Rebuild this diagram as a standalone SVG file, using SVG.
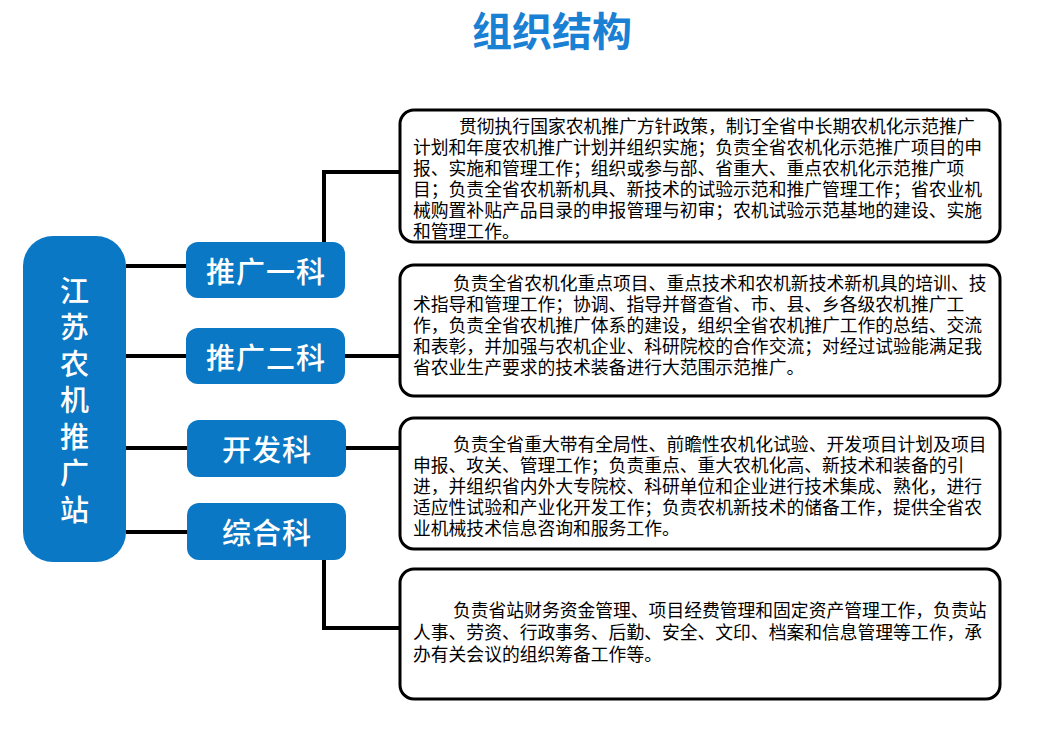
<svg xmlns="http://www.w3.org/2000/svg" width="1055" height="740" viewBox="0 0 1055 740">
<style>
.title{font-family:"Noto Sans CJK SC","Noto Sans",sans-serif;font-size:40px;font-weight:bold;fill:#1A80D3;}
.node{fill:#0A78C4;}
.nt{font-family:"Liberation Sans","Noto Sans CJK SC",sans-serif;font-size:29px;font-weight:500;fill:#FFFFFF;text-anchor:middle;letter-spacing:1px;}
.box{fill:#FFFFFF;stroke:#000000;stroke-width:3;}
.t{font-family:"Liberation Sans","Noto Sans CJK SC",sans-serif;font-size:17.8px;fill:#000000;}
.conn{fill:none;stroke:#000000;stroke-width:4;}
</style>
<rect width="1055" height="740" fill="#FFFFFF"/>
<text class="title" x="552" y="46" text-anchor="middle">组织结构</text>

<g id="connectors">
<path class="conn" d="M126 266 H186"/>
<path class="conn" d="M126 356 H186"/>
<path class="conn" d="M126 448 H187"/>
<path class="conn" d="M126 532 H187"/>
<path class="conn" d="M324 242 V172 H400"/>
<path class="conn" d="M345 356 H400"/>
<path class="conn" d="M346 448 H400"/>
<path class="conn" d="M324 560 V628 H400"/>
</g>

<g id="root">
<rect class="node" x="23" y="236" width="103" height="326" rx="30"/>
<text class="nt" x="75"><tspan x="75" y="302">江</tspan><tspan x="75" y="338">苏</tspan><tspan x="75" y="375">农</tspan><tspan x="75" y="411">机</tspan><tspan x="75" y="448">推</tspan><tspan x="75" y="484">广</tspan><tspan x="75" y="521">站</tspan></text>
</g>

<g id="tuiguang1">
<rect class="node" x="186" y="242" width="159" height="56" rx="12"/>
<text class="nt" x="266" y="283">推广一科</text>
</g>
<g id="tuiguang2">
<rect class="node" x="186" y="328" width="159" height="56" rx="12"/>
<text class="nt" x="266" y="369">推广二科</text>
</g>
<g id="kaifa">
<rect class="node" x="187" y="420" width="159" height="57" rx="12"/>
<text class="nt" x="267" y="461">开发科</text>
</g>
<g id="zonghe">
<rect class="node" x="187" y="503" width="159" height="57" rx="12"/>
<text class="nt" x="267" y="544">综合科</text>
</g>

<g id="desc1">
<rect class="box" x="400" y="110" width="600" height="132" rx="14"/>
<text class="t"><tspan x="459" y="132.5">贯彻执行国家农机推广方针政策，制订全省中长期农机化示范推广</tspan><tspan x="413" y="153.5">计划和年度农机推广计划并组织实施；负责全省农机化示范推广项目的申</tspan><tspan x="413" y="174.5">报、实施和管理工作；组织或参与部、省重大、重点农机化示范推广项</tspan><tspan x="413" y="195.5">目；负责全省农机新机具、新技术的试验示范和推广管理工作；省农业机</tspan><tspan x="413" y="216.5">械购置补贴产品目录的申报管理与初审；农机试验示范基地的建设、实施</tspan><tspan x="413" y="237.5">和管理工作。</tspan></text>
</g>

<g id="desc2">
<rect class="box" x="400" y="265" width="600" height="131" rx="14"/>
<text class="t"><tspan x="453" y="289.5">负责全省农机化重点项目、重点技术和农机新技术新机具的培训、技</tspan><tspan x="413" y="310.5">术指导和管理工作；协调、指导并督查省、市、县、乡各级农机推广工</tspan><tspan x="413" y="331.5">作，负责全省农机推广体系的建设，组织全省农机推广工作的总结、交流</tspan><tspan x="413" y="352.5">和表彰，并加强与农机企业、科研院校的合作交流；对经过试验能满足我</tspan><tspan x="413" y="373.5">省农业生产要求的技术装备进行大范围示范推广。</tspan></text>
</g>

<g id="desc3">
<rect class="box" x="400" y="418" width="600" height="131" rx="14"/>
<text class="t"><tspan x="453" y="450.5">负责全省重大带有全局性、前瞻性农机化试验、开发项目计划及项目</tspan><tspan x="413" y="471.5">申报、攻关、管理工作；负责重点、重大农机化高、新技术和装备的引</tspan><tspan x="413" y="492.5">进，并组织省内外大专院校、科研单位和企业进行技术集成、熟化，进行</tspan><tspan x="413" y="513.5">适应性试验和产业化开发工作；负责农机新技术的储备工作，提供全省农</tspan><tspan x="413" y="534.5">业机械技术信息咨询和服务工作。</tspan></text>
</g>

<g id="desc4">
<rect class="box" x="400" y="569" width="600" height="130" rx="14"/>
<text class="t"><tspan x="453" y="617">负责省站财务资金管理、项目经费管理和固定资产管理工作，负责站</tspan><tspan x="413" y="639">人事、劳资、行政事务、后勤、安全、文印、档案和信息管理等工作，承</tspan><tspan x="413" y="661">办有关会议的组织筹备工作等。</tspan></text>
</g>
</svg>
